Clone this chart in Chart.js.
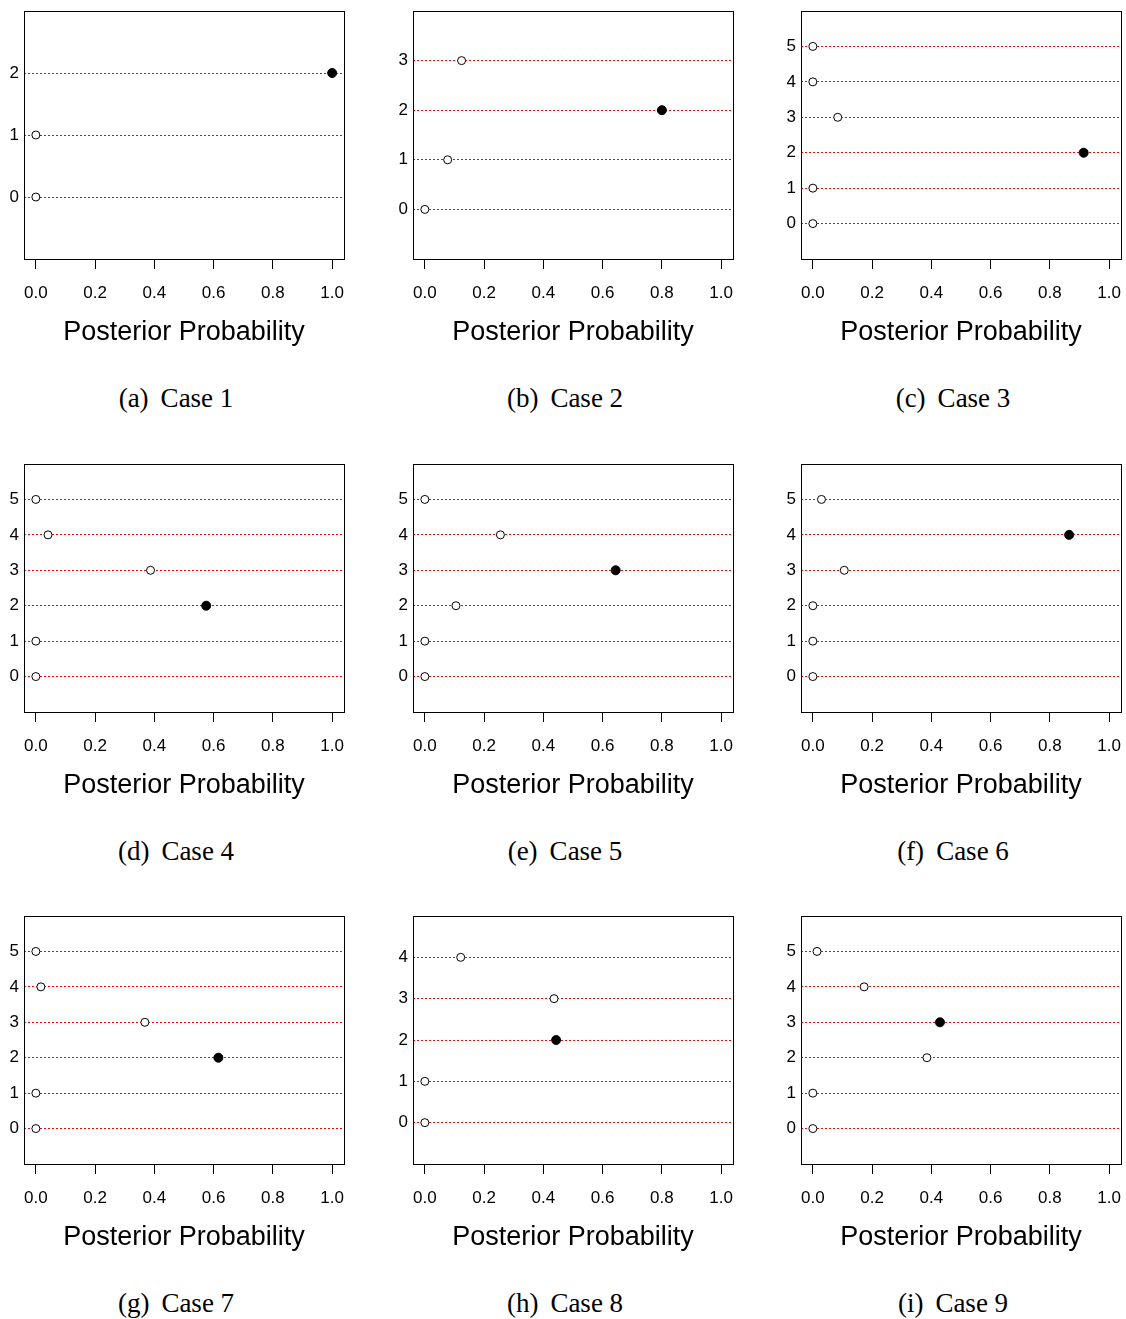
<!DOCTYPE html>
<html><head><meta charset="utf-8">
<script src="https://cdn.jsdelivr.net/npm/chart.js@4/dist/chart.umd.min.js"></script>
<style>
html,body{margin:0;padding:0;background:#fff;}
body{width:1126px;height:1319px;position:relative;overflow:hidden;}
canvas.panel{position:absolute;}
.cap{position:absolute;font-family:"Liberation Serif",serif;font-size:27px;color:#000;white-space:nowrap;transform:translate(-50%,-50%);line-height:1;}
.cap .gap{display:inline-block;width:12px;}
</style></head><body>
<script>
// ---- data ----
const xTickValues = [0.0, 0.2, 0.4, 0.6, 0.8, 1.0];
const xAxisTitle = 'Posterior Probability';
const caseTags  = ['(a)', '(b)', '(c)', '(d)', '(e)', '(f)', '(g)', '(h)', '(i)'];
const caseNames = ['Case 1', 'Case 2', 'Case 3', 'Case 4', 'Case 5', 'Case 6', 'Case 7', 'Case 8', 'Case 9'];

const case1Categories = [0, 1, 2];
const case1Probabilities = [0.0, 0.0, 1.0];
const case2Categories = [0, 1, 2, 3];
const case2Probabilities = [0.0, 0.077, 0.800, 0.124];
const case3Categories = [0, 1, 2, 3, 4, 5];
const case3Probabilities = [0.0, 0.0, 0.914, 0.084, 0.0, 0.0];
const case4Categories = [0, 1, 2, 3, 4, 5];
const case4Probabilities = [0.0, 0.0, 0.575, 0.387, 0.041, 0.0];
const case5Categories = [0, 1, 2, 3, 4, 5];
const case5Probabilities = [0.0, 0.0, 0.105, 0.644, 0.255, 0.0];
const case6Categories = [0, 1, 2, 3, 4, 5];
const case6Probabilities = [0.0, 0.0, 0.0, 0.106, 0.865, 0.029];
const case7Categories = [0, 1, 2, 3, 4, 5];
const case7Probabilities = [0.0, 0.0, 0.616, 0.368, 0.017, 0.0];
const case8Categories = [0, 1, 2, 3, 4];
const case8Probabilities = [0.0, 0.0, 0.443, 0.436, 0.121];
const case9Categories = [0, 1, 2, 3, 4, 5];
const case9Probabilities = [0.0, 0.0, 0.385, 0.429, 0.173, 0.014];

const allCategories = [case1Categories, case2Categories, case3Categories, case4Categories, case5Categories, case6Categories, case7Categories, case8Categories, case9Categories];
const allProbabilities = [case1Probabilities, case2Probabilities, case3Probabilities, case4Probabilities, case5Probabilities, case6Probabilities, case7Probabilities, case8Probabilities, case9Probabilities];

// ---- layout ----
const canvasLefts = [0, 389, 777];
const canvasTops = [0, 453, 905];
const CW = 360, CH = 349;
const FONT = '"Liberation Sans", Arial, sans-serif';

const boxPlugin = {
  id: 'box',
  afterDraw(chart) {
    const a = chart.chartArea, ctx = chart.ctx;
    ctx.save();
    ctx.strokeStyle = '#000';
    ctx.lineWidth = 1;
    ctx.setLineDash([]);
    ctx.strokeRect(Math.round(a.left) + 0.5, Math.round(a.top) + 0.5, Math.round(a.right - a.left), Math.round(a.bottom - a.top));
    ctx.restore();
  }
};

for (let i = 0; i < 9; i++) {
  const row = Math.floor(i / 3), col = i % 3;
  const cats = allCategories[i], probs = allProbabilities[i];
  const maxP = Math.max(...probs);
  const nMax = Math.max(...cats);

  const cv = document.createElement('canvas');
  cv.className = 'panel';
  cv.width = CW; cv.height = CH;
  cv.style.left = canvasLefts[col] + 'px';
  cv.style.top = canvasTops[row] + 'px';
  cv.style.width = CW + 'px'; cv.style.height = CH + 'px';
  document.body.appendChild(cv);

  new Chart(cv.getContext('2d'), {
    type: 'scatter',
    data: {
      datasets: [{
        data: cats.map((c, k) => ({ x: probs[k], y: c })),
        pointRadius: ctx => (ctx.raw && ctx.raw.x === maxP ? 4.5 : 4),
        pointBackgroundColor: ctx => (ctx.raw && ctx.raw.x === maxP ? '#000' : '#fff'),
        pointBorderColor: '#000',
        pointBorderWidth: 1,
        showLine: false,
        clip: false
      }]
    },
    options: {
      responsive: false,
      animation: false,
      devicePixelRatio: 1,
      layout: { padding: { top: 11, right: 16, left: 0, bottom: 0 } },
      plugins: { legend: { display: false }, tooltip: { enabled: false } },
      scales: {
        x: {
          type: 'linear', min: -0.04, max: 1.04,
          afterBuildTicks: s => { s.ticks = xTickValues.map(v => ({ value: v })); },
          afterFit: s => { s.height = 90; s.paddingLeft = 0; s.paddingRight = 0; },
          grid: { drawOnChartArea: false, drawTicks: true, tickLength: 10, color: '#000', tickColor: '#000', lineWidth: 1 },
          border: { display: false },
          ticks: { color: '#000', font: { family: FONT, size: 17 }, padding: 14, maxRotation: 0, autoSkip: false,
                   callback: v => Number(v).toFixed(1) },
          title: { display: true, text: xAxisTitle, color: '#000', font: { family: FONT, size: 27 }, padding: { top: 0, bottom: 0 } }
        },
        y: {
          type: 'linear', min: -1, max: nMax + 1,
          afterBuildTicks: s => { s.ticks = cats.map(v => ({ value: v })); },
          afterFit: s => { s.width = 24; s.paddingTop = 0; s.paddingBottom = 0; },
          grid: { drawTicks: false, color: '#ff0000', lineWidth: 1 },
          border: { display: false, dash: [2, 2] },
          ticks: { color: '#000', font: { family: FONT, size: 17 }, padding: 5, callback: v => String(v) }
        }
      }
    },
    plugins: [boxPlugin]
  });

  const cap = document.createElement('div');
  cap.className = 'cap';
  cap.style.left = (canvasLefts[col] + 176) + 'px';
  cap.style.top = (canvasTops[row] + 11 + 387) + 'px';
  const t1 = document.createElement('span'); t1.textContent = caseTags[i];
  const g = document.createElement('span'); g.className = 'gap';
  const t2 = document.createElement('span'); t2.textContent = caseNames[i];
  cap.appendChild(t1); cap.appendChild(g); cap.appendChild(t2);
  document.body.appendChild(cap);
}
</script>
</body></html>
